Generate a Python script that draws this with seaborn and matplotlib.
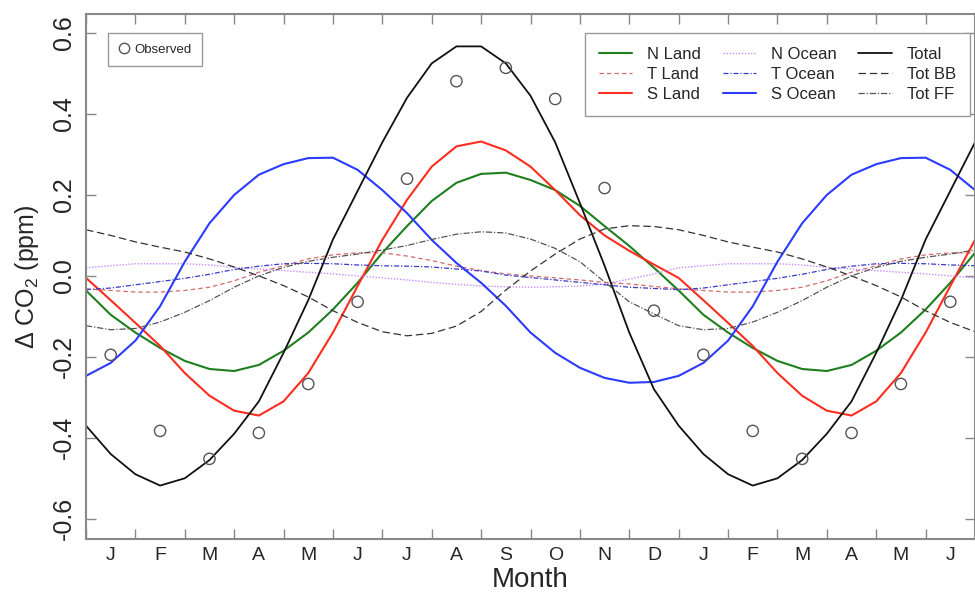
import numpy as np
import pandas as pd
import matplotlib
matplotlib.use("Agg")
import matplotlib.pyplot as plt
import seaborn as sns
from matplotlib.lines import Line2D

# ---------------- data ----------------
month_labels = ["J", "F", "M", "A", "M", "J", "J", "A", "S", "O", "N", "D",
                "J", "F", "M", "A", "M", "J"]

# half-monthly samples, one annual cycle starting at month 0.5
n_land = [-0.036, -0.096, -0.140, -0.178, -0.210, -0.230, -0.235, -0.220,
          -0.185, -0.140, -0.083, -0.017, 0.057, 0.123, 0.185, 0.230,
          0.252, 0.255, 0.237, 0.212, 0.173, 0.123, 0.074, 0.020]
t_land = [-0.032, -0.036, -0.040, -0.040, -0.036, -0.028, -0.012, 0.009,
          0.025, 0.042, 0.052, 0.057, 0.057, 0.049, 0.038, 0.024,
          0.013, 0.005, 0.000, -0.005, -0.010, -0.016, -0.020, -0.026]
s_land = [-0.005, -0.060, -0.116, -0.173, -0.240, -0.296, -0.333, -0.345,
          -0.310, -0.240, -0.140, -0.025, 0.089, 0.188, 0.270, 0.320,
          0.332, 0.310, 0.270, 0.212, 0.150, 0.100, 0.062, 0.028]
n_ocean = [0.020, 0.025, 0.030, 0.030, 0.030, 0.027, 0.021, 0.017,
           0.013, 0.009, 0.005, 0.000, -0.005, -0.010, -0.016, -0.021,
           -0.025, -0.027, -0.028, -0.027, -0.025, -0.020, -0.008, 0.005]
t_ocean = [-0.034, -0.030, -0.022, -0.014, -0.006, 0.004, 0.016, 0.024,
           0.030, 0.031, 0.030, 0.027, 0.025, 0.024, 0.022, 0.017,
           0.012, 0.002, -0.004, -0.010, -0.016, -0.022, -0.028, -0.031]
s_ocean = [-0.247, -0.215, -0.160, -0.075, 0.035, 0.130, 0.200, 0.250,
           0.276, 0.291, 0.292, 0.262, 0.212, 0.155, 0.089, 0.032,
           -0.017, -0.074, -0.140, -0.190, -0.227, -0.252, -0.264, -0.262]
total = [-0.370, -0.440, -0.490, -0.518, -0.500, -0.455, -0.390, -0.310,
         -0.190, -0.060, 0.090, 0.210, 0.330, 0.440, 0.525, 0.567,
         0.567, 0.525, 0.445, 0.330, 0.180, 0.025, -0.140, -0.280]
tot_bb = [0.114, 0.100, 0.084, 0.071, 0.059, 0.042, 0.022, 0.000,
          -0.024, -0.052, -0.086, -0.115, -0.138, -0.148, -0.142, -0.124,
          -0.088, -0.035, 0.012, 0.054, 0.091, 0.116, 0.124, 0.122]
tot_ff = [-0.123, -0.133, -0.130, -0.114, -0.090, -0.061, -0.028, 0.000,
          0.021, 0.036, 0.046, 0.054, 0.064, 0.075, 0.090, 0.103,
          0.109, 0.106, 0.091, 0.068, 0.035, -0.015, -0.064, -0.094]

# observed monthly values, Jan..Dec
observed = [-0.195, -0.383, -0.452, -0.388, -0.267, -0.064,
            0.240, 0.481, 0.514, 0.437, 0.217, -0.086]

# ---------------- build the table ----------------
xs = np.arange(0.5, 18.51, 0.5)
series = [
    ("N Land", n_land, "#1f7f1f", "-", 1.5),
    ("T Land", t_land, "#d46a6a", (0, (3.5, 2.5)), 0.9),
    ("S Land", s_land, "#ff2d1f", "-", 1.5),
    ("N Ocean", n_ocean, "#c88cff", (0, (1, 1.2)), 1.0),
    ("T Ocean", t_ocean, "#3a3ac8", (0, (4, 1.5, 1, 1.5)), 0.9),
    ("S Ocean", s_ocean, "#2b3bff", "-", 1.5),
    ("Total", total, "#111111", "-", 1.3),
    ("Tot BB", tot_bb, "#333333", (0, (6, 3)), 0.9),
    ("Tot FF", tot_ff, "#555555", (0, (5, 1.5, 1, 1.5)), 0.9),
]
frames = []
for name, vals, *_ in series:
    frames.append(pd.DataFrame({"month": xs,
                                "value": np.resize(np.array(vals), len(xs)),
                                "series": name}))
df = pd.concat(frames, ignore_index=True)
obs_df = pd.DataFrame({"month": np.arange(1, 19),
                       "value": np.resize(np.array(observed), 18)})

# ---------------- plot ----------------
sns.set_style("ticks")
plt.rcParams["font.family"] = ["Liberation Sans", "DejaVu Sans"]
plt.rcParams["mathtext.default"] = "regular"

fig = plt.figure(figsize=(9.75, 5.97), dpi=100)
ax = fig.add_axes([86 / 975, 1 - 539 / 597, 889 / 975, 525 / 597])

handles = []
for name, vals, color, ls, lw in series:
    sub = df[df["series"] == name]
    sns.lineplot(data=sub, x="month", y="value", ax=ax, color=color,
                 linestyle=ls, linewidth=lw, estimator=None, sort=False,
                 legend=False, solid_joinstyle="round", dash_joinstyle="round")
    handles.append(Line2D([], [], color=color, linestyle=ls, linewidth=lw, label=name))

sns.scatterplot(data=obs_df, x="month", y="value", ax=ax, marker="o", s=66,
                facecolor="none", edgecolor="#555555", linewidth=1.0, legend=False,
                zorder=5)

ax.set_xlim(0.5, 18.245)
ax.set_ylim(-0.65, 0.647)

ax.set_xticks(np.arange(0.5, 19.0, 1.0))
ax.set_xticklabels([])
ax.set_xticks(np.arange(1, 19), minor=True)
ax.set_xticklabels(month_labels, minor=True)
ax.tick_params(axis="x", which="minor", length=0, labelsize=14, pad=6)
ax.tick_params(axis="x", which="major", direction="in", length=7, width=1,
               color="#888888", top=True)

ax.set_yticks([-0.6, -0.4, -0.2, 0.0, 0.2, 0.4, 0.6])
ax.set_yticklabels(["-0.6", "-0.4", "-0.2", "0.0", "0.2", "0.4", "0.6"])
ax.tick_params(axis="y", direction="in", length=7, width=1, color="#888888",
               labelsize=18, labelrotation=90, pad=7, right=True)
for lab in ax.get_yticklabels():
    lab.set_verticalalignment("center")

for sp in ax.spines.values():
    sp.set_color("#888888")
    sp.set_linewidth(1.5)

ax.set_xlabel("Month", fontsize=20, labelpad=2)
ax.set_ylabel("Δ CO$_2$ (ppm)", fontsize=18, labelpad=8)

obs_handle = Line2D([], [], marker="o", linestyle="none", markerfacecolor="none",
                    markeredgecolor="#555555", markersize=7.5, label="Observed")
leg1 = ax.legend(handles=[obs_handle], loc="upper left",
                 bbox_to_anchor=((108 - 86) / 889, (539 - 33) / 525),
                 borderaxespad=0, fontsize=9.5, fancybox=False, edgecolor="#999999",
                 framealpha=1, handlelength=0.8, handletextpad=0.4, borderpad=0.8)
leg1.get_frame().set_linewidth(1.0)
ax.add_artist(leg1)

leg2 = ax.legend(handles=handles, ncol=3, loc="upper right",
                 bbox_to_anchor=((970 - 86) / 889, (539 - 33) / 525),
                 borderaxespad=0, fontsize=12, fancybox=False, edgecolor="#999999",
                 framealpha=1, handlelength=2.0, handletextpad=0.9,
                 columnspacing=1.3, labelspacing=0.3, borderpad=0.85)
leg2.get_frame().set_linewidth(1.0)

fig.savefig("out.png", dpi=100)
